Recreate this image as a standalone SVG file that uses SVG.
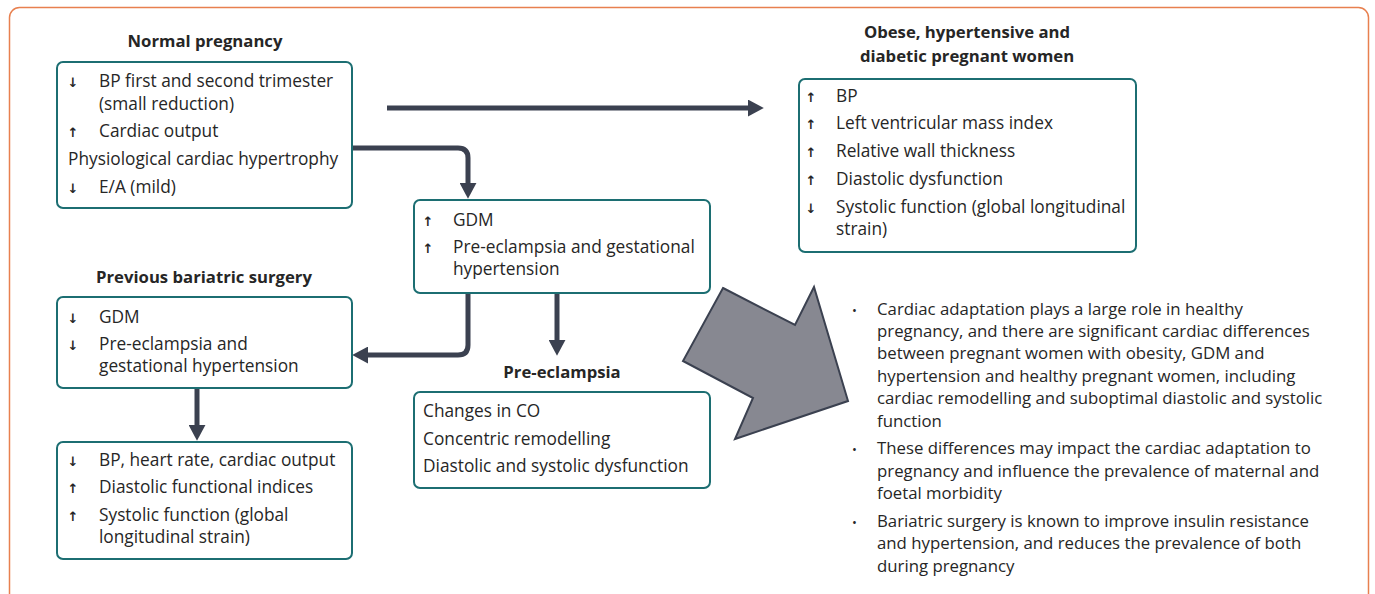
<svg xmlns="http://www.w3.org/2000/svg" width="1375" height="594" viewBox="0 0 1375 594">
<style>
text{font-family:"Open Sans","Liberation Sans",Arial,sans-serif;font-size:17.3px;fill:#262626}
.t{font-weight:bold;font-size:16.7px;text-anchor:middle}
.box{fill:#fff;stroke:#1c6e72;stroke-width:2}
.ar{font-family:"DejaVu Sans",sans-serif;font-size:13px;font-weight:bold;text-anchor:middle}
.bl{font-size:13px}
.s{font-size:16.8px}
.con{fill:none;stroke:#3b4150;stroke-width:5;marker-end:url(#ah)}
</style>
<defs>
<marker id="ah" markerUnits="userSpaceOnUse" markerWidth="16" markerHeight="17" viewBox="0 0 15 16" refX="2" refY="8" orient="auto">
<path d="M0,0 L15,8 L0,16 z" fill="#3b4150"/>
</marker>
</defs>
<rect x="9.5" y="7.5" width="1359" height="620" rx="10" fill="#fff" stroke="#e8804f" stroke-width="1.5"/>

<g id="connectors">
<path class="con" d="M387,108 H750"/>
<path class="con" d="M352,148 H458 Q468,148 468,158 V185"/>
<path class="con" d="M468,293 V345 Q468,355 458,355 H366"/>
<path class="con" d="M557,293 V342"/>
<path class="con" d="M197,388 V427"/>
</g>

<g id="big-arrow">
<polygon points="723,288 795,325 814,287 848,401 735,439 753,398 683,361" fill="#878891" stroke="#3b4150" stroke-width="2" stroke-linejoin="miter"/>
</g>

<g id="normal-pregnancy">
<text class="t" x="205" y="47">Normal pregnancy</text>
<rect class="box" x="57" y="62" width="295" height="146" rx="6"/>
<text class="ar" x="73" y="87">↓</text><text x="99" y="87">BP first and second trimester</text>
<text x="99" y="110">(small reduction)</text>
<text class="ar" x="73" y="137">↑</text><text x="99" y="137">Cardiac output</text>
<text x="68" y="165">Physiological cardiac hypertrophy</text>
<text class="ar" x="73" y="193">↓</text><text x="99" y="193">E/A (mild)</text>
</g>

<g id="obese">
<text class="t" x="967" y="38">Obese, hypertensive and</text>
<text class="t" x="967" y="62">diabetic pregnant women</text>
<rect class="box" x="799" y="79" width="337" height="173" rx="6"/>
<text class="ar" x="811" y="102">↑</text><text x="836" y="102">BP</text>
<text class="ar" x="811" y="129">↑</text><text x="836" y="129">Left ventricular mass index</text>
<text class="ar" x="811" y="157">↑</text><text x="836" y="157">Relative wall thickness</text>
<text class="ar" x="811" y="185">↑</text><text x="836" y="185">Diastolic dysfunction</text>
<text class="ar" x="811" y="213">↓</text><text x="836" y="213">Systolic function (global longitudinal</text>
<text x="836" y="235">strain)</text>
</g>

<g id="gdm">
<rect class="box" x="414" y="200" width="296" height="93" rx="6"/>
<text class="ar" x="428" y="226">↑</text><text x="453" y="226">GDM</text>
<text class="ar" x="428" y="253">↑</text><text x="453" y="253">Pre-eclampsia and gestational</text>
<text x="453" y="275">hypertension</text>
</g>

<g id="bariatric">
<text class="t" x="204" y="283">Previous bariatric surgery</text>
<rect class="box" x="57" y="297" width="295" height="91" rx="6"/>
<text class="ar" x="73" y="323">↓</text><text x="99" y="323">GDM</text>
<text class="ar" x="73" y="350">↓</text><text x="99" y="350">Pre-eclampsia and</text>
<text x="99" y="372">gestational hypertension</text>
</g>

<g id="bariatric-effects">
<rect class="box" x="57" y="442" width="295" height="117" rx="6"/>
<text class="ar" x="73" y="466">↓</text><text x="99" y="466">BP, heart rate, cardiac output</text>
<text class="ar" x="73" y="493">↑</text><text x="99" y="493">Diastolic functional indices</text>
<text class="ar" x="73" y="521">↑</text><text x="99" y="521">Systolic function (global</text>
<text x="99" y="543">longitudinal strain)</text>
</g>

<g id="pre-eclampsia">
<text class="t" x="562" y="378">Pre-eclampsia</text>
<rect class="box" x="414" y="392" width="296" height="96" rx="6"/>
<text x="423" y="417">Changes in CO</text>
<text x="423" y="445">Concentric remodelling</text>
<text x="423" y="472">Diastolic and systolic dysfunction</text>
</g>

<g id="summary">
<text class="bl" x="852" y="315">•</text>
<text class="s" x="877" y="315">Cardiac adaptation plays a large role in healthy</text>
<text class="s" x="877" y="337">pregnancy, and there are significant cardiac differences</text>
<text class="s" x="877" y="359">between pregnant women with obesity, GDM and</text>
<text class="s" x="877" y="382">hypertension and healthy pregnant women, including</text>
<text class="s" x="877" y="404">cardiac remodelling and suboptimal diastolic and systolic</text>
<text class="s" x="877" y="427">function</text>
<text class="bl" x="852" y="454">•</text>
<text class="s" x="877" y="454">These differences may impact the cardiac adaptation to</text>
<text class="s" x="877" y="477">pregnancy and influence the prevalence of maternal and</text>
<text class="s" x="877" y="499">foetal morbidity</text>
<text class="bl" x="852" y="527">•</text>
<text class="s" x="877" y="527">Bariatric surgery is known to improve insulin resistance</text>
<text class="s" x="877" y="549">and hypertension, and reduces the prevalence of both</text>
<text class="s" x="877" y="572">during pregnancy</text>
</g>
</svg>
